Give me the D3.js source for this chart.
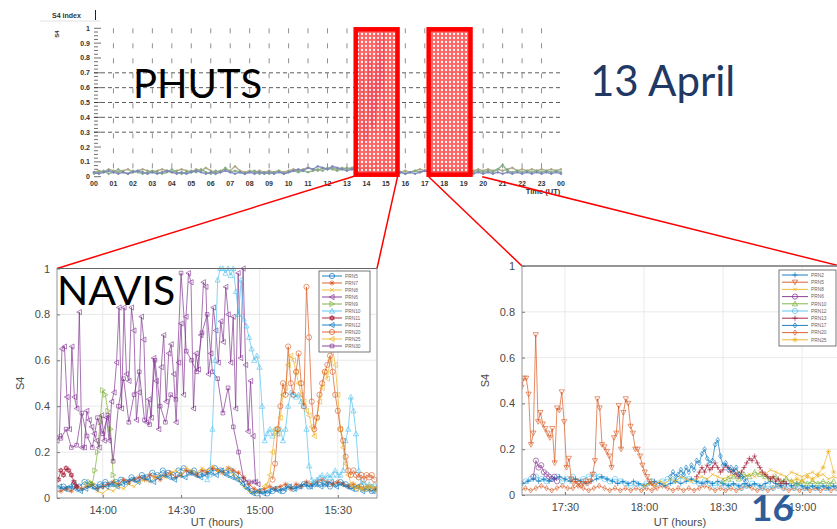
<!DOCTYPE html>
<html>
<head>
<meta charset="utf-8">
<script src="https://cdn.jsdelivr.net/npm/d3@7"></script>
<style>
  html, body { margin: 0; padding: 0; background: #fff; }
  svg { display: block; }
</style>
</head>
<body>
<svg id="chart" width="837" height="529"></svg>
<script>
// ---------- Daily overview (PHUTS), S4 per 15 min, 00–24 UT ----------
const dayStepHour = 0.25;
const phutsTan = [
  0.03,0.04,0.03,0.05,0.04,0.03,0.04,0.05,0.03,0.04,
  0.05,0.04,0.03,0.04,0.05,0.04,0.03,0.04,0.05,0.04,
  0.03,0.05,0.04,0.06,0.04,0.03,0.04,0.05,0.04,0.07,
  0.04,0.03,0.04,0.03,0.04,0.03,0.04,0.03,0.04,0.03,
  0.04,0.05,0.04,0.05,0.06,0.05,0.04,0.06,0.05,0.06,
  0.05,0.06,0.05,0.06,0.07,0.08,0.07,0.08,0.09,0.10,
  0.08,0.06,0.04,0.03,0.04,0.03,0.04,0.05,0.04,0.05,
  0.04,0.05,0.06,0.05,0.04,0.05,0.04,0.03,0.04,0.05,
  0.04,0.05,0.04,0.05,0.04,0.05,0.06,0.04,0.05,0.04,
  0.05,0.04,0.05,0.04,0.05,0.04,0.05];
const phutsGreen = [
  0.02,0.03,0.04,0.02,0.03,0.05,0.03,0.02,0.04,0.03,
  0.02,0.03,0.04,0.03,0.02,0.03,0.05,0.03,0.02,0.03,
  0.04,0.03,0.05,0.03,0.02,0.04,0.03,0.06,0.03,0.04,
  0.03,0.02,0.03,0.04,0.02,0.03,0.02,0.03,0.04,0.02,
  0.03,0.04,0.03,0.04,0.03,0.04,0.05,0.04,0.06,0.05,
  0.04,0.05,0.06,0.05,0.04,0.05,0.06,0.05,0.06,0.05,
  0.04,0.03,0.02,0.03,0.02,0.03,0.04,0.03,0.04,0.03,
  0.04,0.03,0.04,0.03,0.05,0.04,0.03,0.02,0.03,0.04,
  0.03,0.04,0.03,0.05,0.08,0.04,0.03,0.04,0.03,0.04,
  0.03,0.04,0.03,0.04,0.03,0.04,0.03];
const phutsBlue = [
  0.03,0.02,0.03,0.04,0.03,0.02,0.03,0.02,0.03,0.04,
  0.03,0.02,0.03,0.02,0.03,0.04,0.03,0.02,0.03,0.02,
  0.03,0.04,0.03,0.02,0.03,0.02,0.03,0.04,0.03,0.02,
  0.03,0.02,0.03,0.02,0.03,0.02,0.03,0.02,0.03,0.02,
  0.03,0.04,0.05,0.04,0.06,0.05,0.07,0.06,0.05,0.07,
  0.06,0.05,0.04,0.05,0.06,0.05,0.04,0.03,0.02,0.03,
  0.02,0.03,0.02,0.03,0.02,0.03,0.02,0.03,0.04,0.03,
  0.04,0.03,0.02,0.03,0.02,0.03,0.02,0.03,0.02,0.03,
  0.02,0.03,0.02,0.03,0.02,0.03,0.02,0.03,0.02,0.03,
  0.02,0.03,0.02,0.03,0.02,0.03,0.02];
const dayTickLabels = ["00","01","02","03","04","05","06","07","08","09","10","11","12",
  "13","14","15","16","17","18","19","20","21","22","23","00"];
const dayYTicks = [0,0.1,0.2,0.3,0.4,0.5,0.6,0.7,0.8,0.9,1];
const dayDashedLevels = [0.3,0.4,0.5,0.6,0.7];
// zoom windows marked on the daily plot (UT hours)
const zoomWindows = [[13.45, 15.6], [17.2, 19.35]];

// ---------- NAVIS, 13:42–15:45 UT ----------
const navisPrn6Start = "13:42.5", navisPrn6Step = 0.95;
const navisPrn6 = [
  0.25,0.27,0.65,0.66,0.44,0.30,0.66,0.44,0.39,0.81,0.22,0.22,0.38,0.34,0.31,0.28,0.25,0.22,
  0.36,0.25,0.35,0.25,0.42,0.46,0.59,0.83,0.39,0.83,0.54,0.51,0.83,0.73,0.34,0.46,0.79,0.69,
  0.33,0.43,0.35,0.61,0.51,0.30,0.57,0.71,0.42,0.63,0.67,0.54,
  0.33,0.59,0.76,0.45,0.79,0.98,0.94,0.39,0.63,0.56,0.71,0.94,0.92,0.54,0.63,0.83,0.73,0.59,
  0.77,0.68,0.92,0.80,0.59,0.79,0.39,0.98,0.61,1.00,0.58,0.29,0.51,0.27,0.07,0.06];
const navisPrn30Start = "13:44", navisPrn30Step = 2;
const navisPrn30 = [
  0.26,0.30,0.22,0.23,0.37,0.27,0.22,0.35,0.28,0.36,0.16,0.40,0.52,0.33,0.45,0.55,0.34,0.32,
  0.60,0.40,0.33,0.45,0.43,0.98,0.64,0.60,0.55,0.72,0.80,0.55,0.52,0.37,0.48,0.31,0.20,0.08,
  0.07,0.07];
const navisPrn10Start = "14:40", navisPrn10Step = 1;
const navisPrn10 = [
  0.08,0.10,0.30,0.60,0.95,1.00,1.00,0.98,1.00,0.97,1.00,0.90,0.80,0.95,0.78,0.75,0.70,0.65,
  0.60,0.62,0.57,0.40,0.25,0.28,0.30,0.27,0.30,0.28,0.30,0.25,0.30,0.40,0.46,0.45,0.44,0.45,
  0.42,0.40,0.30,0.14,0.08,0.07,0.08,0.09,0.10,0.08,0.10,0.09,0.10,0.12,0.10,0.10,0.12,0.25,
  0.30,0.44,0.38,0.28,0.12,0.06,0.07,0.05,0.06,0.05,0.06];
const navisPrn25Start = "15:02", navisPrn25Step = 1;
const navisPrn25 = [
  0.05,0.06,0.10,0.20,0.30,0.28,0.35,0.45,0.48,0.58,0.62,0.60,0.55,0.50,0.45,0.42,0.38,0.36,
  0.31,0.27,0.35,0.42,0.48,0.55,0.52,0.60,0.65,0.58,0.45,0.30,0.22,0.15,0.10,0.06,0.05,0.04,
  0.05,0.04,0.04,0.05,0.04,0.05,0.04];
const navisPrn20Start = "15:05", navisPrn20Step = 1;
const navisPrn20 = [
  0.08,0.15,0.30,0.40,0.50,0.45,0.66,0.50,0.45,0.55,0.63,0.50,0.40,0.92,0.70,0.42,0.30,0.35,
  0.45,0.50,0.55,0.58,0.62,0.55,0.45,0.38,0.30,0.25,0.18,0.12,0.10,0.12,0.10,0.09,0.10,0.08,
  0.10,0.09,0.10,0.08];
const navisPrn9Start = "13:54", navisPrn9Step = 1;
const navisPrn9 = [0.06,0.07,0.06,0.12,0.20,0.33,0.47,0.45,0.38,0.30,0.10,0.06];
const navisPrn11Start = "13:43", navisPrn11Step = 1;
const navisPrn11 = [0.08,0.12,0.10,0.13,0.12,0.10,0.07,0.05];
const navisPrn5Start = "13:43", navisPrn5Step = 2;
const navisPrn5 = [
  0.04,0.05,0.04,0.06,0.05,0.07,0.06,0.05,0.06,0.07,
  0.06,0.07,0.08,0.07,0.09,0.08,0.10,0.09,0.11,0.10,
  0.12,0.11,0.10,0.12,0.13,0.11,0.12,0.10,0.11,0.12,
  0.13,0.12,0.11,0.12,0.10,0.08,0.05,0.03,0.02,0.03,
  0.02,0.03,0.04,0.03,0.05,0.04,0.05,0.06,0.05,0.06,
  0.07,0.06,0.05,0.06,0.07,0.06,0.05,0.04,0.05,0.04,0.03,0.04];
const navisPrn7Start = "13:44", navisPrn7Step = 2;
const navisPrn7 = [
  0.03,0.04,0.03,0.05,0.04,0.05,0.06,0.04,0.05,0.06,
  0.07,0.06,0.08,0.07,0.08,0.09,0.08,0.10,0.09,0.08,
  0.10,0.11,0.09,0.10,0.12,0.11,0.10,0.12,0.11,0.13,
  0.12,0.11,0.13,0.12,0.11,0.09,0.06,0.04,0.03,0.04,
  0.05,0.04,0.05,0.06,0.04,0.06,0.05,0.07,0.06,0.07,
  0.08,0.07,0.06,0.07,0.06,0.05,0.06,0.05,0.04,0.05,0.04,0.05];
const navisPrn12Start = "13:43.5", navisPrn12Step = 2;
const navisPrn12 = [
  0.05,0.04,0.05,0.04,0.03,0.04,0.05,0.04,0.05,0.05,
  0.06,0.05,0.06,0.07,0.08,0.07,0.09,0.08,0.07,0.09,
  0.10,0.09,0.08,0.10,0.09,0.11,0.10,0.09,0.10,0.11,
  0.10,0.12,0.10,0.09,0.08,0.06,0.04,0.02,0.03,0.02,
  0.03,0.04,0.03,0.04,0.05,0.04,0.05,0.06,0.05,0.06,
  0.05,0.06,0.07,0.05,0.06,0.05,0.04,0.05,0.03,0.04,0.03,0.04];
const navisPrn8Start = "13:58", navisPrn8Step = 2;
const navisPrn8 = [
  0.03,0.02,0.04,0.03,0.05,0.04,0.06,0.05,0.07,0.08,
  0.07,0.09,0.10,0.09,0.11,0.12,0.10,0.13,0.12,0.11,
  0.13,0.12,0.14,0.12,0.11,0.13,0.10,0.08,0.05,0.03,0.02,0.03];
const navisTicks = ["14:00","14:30","15:00","15:30"];
const s4Ticks = [0,0.2,0.4,0.6,0.8,1];

// ---------- second window, 17:13–19:14 UT ----------
const evePrn5Start = "17:13.5", evePrn5Step = 0.9;
const evePrn5 = [
  0.47,0.51,0.51,0.44,0.22,0.27,0.70,0.32,0.36,0.31,0.29,0.27,0.25,0.29,0.14,0.38,0.37,0.45,
  0.32,0.12,0.16,0.07,0.05,0.06,0.05,0.04,0.05,0.06,0.05,0.06,0.09,0.15,0.42,0.38,0.22,0.21,
  0.19,0.17,0.12,0.25,0.27,0.39,0.20,0.36,0.42,0.40,0.30,0.27,0.20,0.20,0.17,0.13,0.10,0.08,
  0.06,0.05,0.04];
const evePrn6Start = "17:18", evePrn6Step = 1;
const evePrn6 = [0.08,0.15,0.12,0.13,0.10,0.09,0.08,0.07,0.08,0.06];
const evePrn17Start = "18:10", evePrn17Step = 1;
const evePrn17 = [
  0.08,0.10,0.08,0.09,0.11,0.09,0.12,0.10,0.13,0.11,0.15,0.14,0.18,0.20,0.16,0.14,0.15,0.22,
  0.24,0.17,0.13,0.14,0.11,0.12,0.10,0.12,0.09,0.08,0.07,0.06];
const evePrn13Start = "18:20", evePrn13Step = 1;
const evePrn13 = [
  0.08,0.10,0.12,0.10,0.13,0.11,0.12,0.14,0.12,0.10,0.11,0.13,0.12,0.10,0.11,0.09,0.08,0.10,
  0.12,0.14,0.16,0.15,0.17,0.14,0.12,0.10,0.09,0.08,0.07,0.08,0.06,0.07,0.05,0.06,0.05];
const evePrn2Start = "17:14", evePrn2Step = 2;
const evePrn2 = [
  0.05,0.06,0.07,0.06,0.07,0.06,0.07,0.08,0.07,0.06,
  0.07,0.06,0.05,0.06,0.07,0.08,0.07,0.06,0.05,0.06,
  0.05,0.06,0.05,0.04,0.05,0.06,0.05,0.04,0.05,0.06,
  0.05,0.06,0.07,0.06,0.05,0.06,0.05,0.06,0.05,0.04,
  0.05,0.04,0.05,0.04,0.05,0.04,0.05,0.06,0.05,0.04,
  0.05,0.04,0.05,0.04,0.03,0.04,0.03,0.04,0.03,0.04,0.03];
const evePrn20Start = "17:13", evePrn20Step = 2;
const evePrn20 = [
  0.02,0.03,0.02,0.03,0.04,0.03,0.02,0.03,0.04,0.03,
  0.03,0.04,0.03,0.02,0.03,0.04,0.03,0.02,0.03,0.02,
  0.03,0.02,0.03,0.02,0.03,0.02,0.03,0.04,0.03,0.02,
  0.03,0.02,0.03,0.02,0.03,0.04,0.03,0.02,0.03,0.02,
  0.03,0.02,0.03,0.04,0.03,0.02,0.03,0.02,0.03,0.04,
  0.03,0.02,0.03,0.02,0.03,0.02,0.03,0.02,0.03,0.02,0.03];
const evePrn12Start = "17:15", evePrn12Step = 2;
const evePrn12 = [
  0.06,0.07,0.08,0.07,0.06,0.07,0.08,0.06,0.07,0.08,
  0.06,0.07,0.08,0.09,0.08,0.07,0.06,0.07,0.06,0.05,
  0.04,0.05,0.04,0.05,0.06,0.05,0.06,0.07,0.06,0.07,
  0.08,0.07,0.06,0.05,0.06,0.05,0.04,0.05,0.04,0.05,
  0.04,0.03,0.04,0.05,0.04,0.03,0.04,0.03,0.04,0.03,
  0.04,0.03,0.04,0.03,0.04,0.03,0.04,0.03,0.04,0.03,0.04];
const evePrn8Start = "18:00", evePrn8Step = 2;
const evePrn8 = [
  0.04,0.05,0.04,0.06,0.05,0.07,0.06,0.08,0.07,0.06,
  0.07,0.08,0.07,0.09,0.08,0.07,0.08,0.09,0.10,0.08,
  0.09,0.08,0.10,0.09,0.11,0.10,0.09,0.08,0.10,0.09,
  0.08,0.09,0.10,0.08,0.09,0.07,0.08,0.07];
const evePrn10Start = "18:30", evePrn10Step = 2;
const evePrn10 = [0.06,0.07,0.08,0.07,0.09,0.08,0.10,0.09,0.08,0.07,0.08,0.06,
  0.07,0.06,0.05,0.06,0.05,0.06,0.05,0.06,0.05,0.06];
const evePrn25Start = "18:56", evePrn25Step = 2;
const evePrn25 = [0.06,0.07,0.06,0.08,0.07,0.09,0.12,0.19,0.10];
const eveTicks = ["17:30","18:00","18:30","19:00"];

// ---------- drawing ----------
const C = ["#0072BD","#D95319","#EDB120","#7E2F8E","#77AC30","#4DBEEE","#A2142F"];
const AX_FONT = "'Liberation Sans', Arial, sans-serif";
const BIG_FONT = "Lato, 'Open Sans', sans-serif";

const toMin = s => { const [h, m] = s.split(":"); return (+h) * 60 + (+m); };
const toPoints = (start, step, values) =>
  values.map((v, i) => ({ t: toMin(start) + i * step, v }));

function markerPath(type, r) {
  const k = r * 0.8, q = r * 0.7;
  switch (type) {
    case "o": return `M${-r},0a${r},${r} 0 1,0 ${2*r},0a${r},${r} 0 1,0 ${-2*r},0`;
    case "s": return `M${-q},${-q}h${2*q}v${2*q}h${-2*q}z`;
    case "^": return `M0,${-r}L${r},${k}L${-r},${k}Z`;
    case "v": return `M0,${r}L${r},${-k}L${-r},${-k}Z`;
    case "<": return `M${-r},0L${k},${-r}L${k},${r}Z`;
    case ">": return `M${r},0L${-k},${-r}L${-k},${r}Z`;
    case "d": return `M0,${-r}L${q},0L0,${r}L${-q},0Z`;
    case "+": return `M${-r},0H${r}M0,${-r}V${r}`;
    case "x": return `M${-q},${-q}L${q},${q}M${-q},${q}L${q},${-q}`;
    case "*": return `M${-r},0H${r}M0,${-r}V${r}M${-q},${-q}L${q},${q}M${-q},${q}L${q},${-q}`;
    case "h": return `M0,${-r}L${r*0.87},${r*0.5}L${-r*0.87},${r*0.5}Z` +
                     `M0,${r}L${r*0.87},${-r*0.5}L${-r*0.87},${-r*0.5}Z`;
    default: return `M-0.9,0a0.9,0.9 0 1,0 1.8,0a0.9,0.9 0 1,0 -1.8,0`;
  }
}

const svg = d3.select("#chart");
svg.append("rect").attr("width", 837).attr("height", 529).attr("fill", "#fff");
const defs = svg.append("defs");
const pat = defs.append("pattern").attr("id", "dotfill")
  .attr("width", 4).attr("height", 4).attr("patternUnits", "userSpaceOnUse");
pat.append("rect").attr("width", 4).attr("height", 4).attr("fill", "#ff4d4d");
pat.append("circle").attr("cx", 2).attr("cy", 2).attr("r", 1.15).attr("fill", "#fff");

function drawSeries(g, s, x, y, r, lw) {
  const pts = toPoints(s.start, s.step, s.values);
  g.append("path").datum(pts)
    .attr("d", d3.line().x(d => x(d.t)).y(d => y(d.v)))
    .attr("fill", "none").attr("stroke", s.color)
    .attr("stroke-width", lw).attr("stroke-opacity", 0.85);
  if (s.marker) {
    g.selectAll(null).data(pts).join("path")
      .attr("transform", d => `translate(${x(d.t)},${y(d.v)})`)
      .attr("d", markerPath(s.marker, r))
      .attr("fill", s.marker === "." ? s.color : "none").attr("stroke", s.color)
      .attr("stroke-width", 0.7).attr("stroke-opacity", 0.85);
  }
}

// ===== daily overview =====
const xDay = d3.scaleLinear().domain([0, 24]).range([94, 561]);
const yDay = d3.scaleLinear().domain([0, 1]).range([176.7, 28.3]);
const overview = svg.append("g");

overview.append("line").attr("x1", 40).attr("x2", 100).attr("y1", 21).attr("y2", 21)
  .attr("stroke", "#e2e2e2");
overview.append("text").attr("x", 52).attr("y", 17.5).text("S4 index")
  .attr("font-family", AX_FONT).attr("font-size", 7).attr("font-weight", "bold").attr("fill", "#333");
overview.append("line").attr("x1", 95.5).attr("x2", 95.5).attr("y1", 10).attr("y2", 20)
  .attr("stroke", "#222").attr("stroke-width", 1);
overview.append("text").attr("transform", "translate(59,34) rotate(-90)").text("S4")
  .attr("text-anchor", "middle")
  .attr("font-family", AX_FONT).attr("font-size", 6).attr("font-weight", "bold").attr("fill", "#333");

// vertical hour grid (sparse dashes)
overview.selectAll(null).data(d3.range(1, 24)).join("line")
  .attr("x1", d => xDay(d)).attr("x2", d => xDay(d))
  .attr("y1", yDay(1)).attr("y2", yDay(0))
  .attr("stroke", "#444").attr("stroke-width", 0.8).attr("stroke-dasharray", "5,10")
  .attr("stroke-opacity", 0.75);
// dashed horizontal levels
overview.selectAll(null).data(dayDashedLevels).join("line")
  .attr("x1", xDay(0)).attr("x2", xDay(24))
  .attr("y1", d => yDay(d)).attr("y2", d => yDay(d))
  .attr("stroke", "#333").attr("stroke-width", 0.8).attr("stroke-dasharray", "4,3");
// y ticks (major + minor)
overview.selectAll(null).data(d3.range(0, 41)).join("line")
  .attr("x1", xDay(0)).attr("x2", d => xDay(0) + (d % 4 === 0 ? 7 : 4))
  .attr("y1", d => yDay(d / 40)).attr("y2", d => yDay(d / 40))
  .attr("stroke", "#333").attr("stroke-width", 0.7);
overview.selectAll(null).data(dayYTicks).join("text")
  .attr("x", xDay(0) - 4).attr("y", d => yDay(d) + 2.5)
  .attr("text-anchor", "end")
  .text(d => (d === 0 || d === 1) ? d : d.toFixed(1))
  .attr("font-family", AX_FONT).attr("font-size", 7).attr("font-weight", "bold").attr("fill", "#333");

// overview series, plotted on a minute axis spanning the day
const xDayMin = d3.scaleLinear().domain([0, 1440]).range([94, 561]);
const daySeries = [
  { start: "0:00", step: dayStepHour * 60, values: phutsTan, color: "#a8a27e" },
  { start: "0:00", step: dayStepHour * 60, values: phutsGreen, color: "#7fae84" },
  { start: "0:00", step: dayStepHour * 60, values: phutsBlue, color: "#7d86bd" }
];
daySeries.forEach(s => drawSeries(overview, { ...s, marker: "." }, xDayMin, yDay, 0, 1.5));
drawSeries(overview, { start: navisPrn6Start, step: navisPrn6Step, values: navisPrn6,
  color: C[3] }, xDayMin, yDay, 0, 0.8);

overview.selectAll(null).data(dayTickLabels).join("text")
  .attr("x", (d, i) => xDay(i)).attr("y", 186)
  .attr("text-anchor", "middle").text(d => d)
  .attr("font-family", AX_FONT).attr("font-size", 7).attr("font-weight", "bold").attr("fill", "#333");
overview.append("text").attr("x", 543).attr("y", 194).attr("text-anchor", "middle").text("Time (UT)")
  .attr("font-family", AX_FONT).attr("font-size", 7.5).attr("font-weight", "bold").attr("fill", "#333");

// highlighted windows
overview.selectAll(null).data(zoomWindows).join("rect")
  .attr("x", d => xDay(d[0])).attr("y", yDay(1) + 1)
  .attr("width", d => xDay(d[1]) - xDay(d[0]))
  .attr("height", yDay(0) - yDay(1) - 3)
  .attr("fill", "url(#dotfill)").attr("fill-opacity", 0.88)
  .attr("stroke", "#ff0000").attr("stroke-width", 4.5);

// ===== NAVIS panel =====
const xN = d3.scaleLinear().domain([toMin("13:42.5"), toMin("15:45")]).range([57, 377]);
const yN = d3.scaleLinear().domain([0, 1]).range([498, 268.5]);
// ===== evening panel =====
const xE = d3.scaleLinear().domain([toMin("17:13.7"), toMin("19:14.4")]).range([522, 840]);
const yE = d3.scaleLinear().domain([0, 1]).range([495, 266]);

// connector lines from the highlighted windows to the zoom panels
const connectors = [
  [xDay(zoomWindows[0][0]), yDay(0) - 1, xN.range()[0], yN(1)],
  [xDay(zoomWindows[0][1]), yDay(0), xN.range()[1], yN(1)],
  [xDay(zoomWindows[1][0]), yDay(0), xE.range()[0], yE(1)],
  [xDay(19.95), yDay(0), xE.range()[1], yE(1)]
];
svg.selectAll(null).data(connectors).join("line")
  .attr("x1", d => d[0]).attr("y1", d => d[1]).attr("x2", d => d[2]).attr("y2", d => d[3])
  .attr("stroke", "#ff0000").attr("stroke-width", 1.5);

function panel(id, x, y, ticks, series, legend) {
  const g = svg.append("g");
  const [x0, x1] = x.range(), [y0, y1] = y.range();
  g.append("rect").attr("x", x0).attr("y", y1).attr("width", x1 - x0).attr("height", y0 - y1)
    .attr("fill", "#fff");
  // grid
  g.selectAll(null).data(ticks.map(toMin)).join("line")
    .attr("x1", d => x(d)).attr("x2", d => x(d)).attr("y1", y1).attr("y2", y0)
    .attr("stroke", "#e4e4e4").attr("stroke-width", 0.8);
  g.selectAll(null).data(s4Ticks).join("line")
    .attr("x1", x0).attr("x2", x1).attr("y1", d => y(d)).attr("y2", d => y(d))
    .attr("stroke", "#e4e4e4").attr("stroke-width", 0.8);
  // axes
  const ax = g.append("g").attr("transform", `translate(0,${y0})`)
    .call(d3.axisBottom(x).tickValues(ticks.map(toMin)).tickFormat((d, i) => ticks[i])
      .tickSizeInner(-3).tickSizeOuter(0).tickPadding(8));
  const ay = g.append("g").attr("transform", `translate(${x0},0)`)
    .call(d3.axisLeft(y).tickValues(s4Ticks)
      .tickFormat(d => (d === 0 || d === 1) ? d : d.toFixed(1))
      .tickSizeInner(-3).tickSizeOuter(0).tickPadding(7));
  [ax, ay].forEach(a => {
    a.select(".domain").remove();
    a.selectAll("line").attr("stroke", "#777");
    a.selectAll("text").attr("font-family", AX_FONT).attr("font-size", 11).attr("fill", "#4a4a4a");
  });
  // plot
  const clipId = "clip-" + id;
  defs.append("clipPath").attr("id", clipId).append("rect")
    .attr("x", x0).attr("y", y1 - 4).attr("width", x1 - x0).attr("height", y0 - y1 + 4);
  const pg = g.append("g").attr("clip-path", `url(#${clipId})`);
  series.forEach(s => drawSeries(pg, s, x, y, 2.6, 0.8));
  // box
  g.append("rect").attr("x", x0).attr("y", y1).attr("width", x1 - x0).attr("height", y0 - y1)
    .attr("fill", "none").attr("stroke", "#8a8a8a").attr("stroke-width", 0.9);
  g.append("line").attr("x1", x0).attr("x2", x1).attr("y1", y1).attr("y2", y1)
    .attr("stroke", "#666").attr("stroke-width", 1.2);
  // labels
  g.append("text").attr("transform", `translate(${x0 - 33},${(y0 + y1) / 2}) rotate(-90)`)
    .attr("text-anchor", "middle").text("S4")
    .attr("font-family", AX_FONT).attr("font-size", 11).attr("fill", "#4a4a4a");
  g.append("text").attr("x", legend.labelX).attr("y", 526).attr("text-anchor", "middle")
    .text("UT (hours)")
    .attr("font-family", AX_FONT).attr("font-size", 11).attr("fill", "#4a4a4a");
  // legend
  const lg = g.append("g");
  lg.append("rect").attr("x", legend.x).attr("y", legend.y)
    .attr("width", legend.w).attr("height", legend.rowH * series.length + 4)
    .attr("fill", "#fff").attr("stroke", "#555").attr("stroke-width", 0.8);
  const order = legend.order.map(n => series.find(s => s.label === n));
  order.forEach((s, i) => {
    const cy = legend.y + 5 + i * legend.rowH;
    lg.append("line").attr("x1", legend.x + 3).attr("x2", legend.x + legend.lineW)
      .attr("y1", cy).attr("y2", cy).attr("stroke", s.color).attr("stroke-width", 0.9);
    lg.append("path").attr("transform", `translate(${legend.x + 3 + (legend.lineW - 3) / 2},${cy})`)
      .attr("d", markerPath(s.marker, 2.6)).attr("fill", "none")
      .attr("stroke", s.color).attr("stroke-width", 0.7);
    lg.append("text").attr("x", legend.x + legend.lineW + 3).attr("y", cy + 1.7).text(s.label)
      .attr("font-family", AX_FONT).attr("font-size", 4.8).attr("fill", "#666");
  });
}

const navisSeries = [
  { label: "PRN5",  start: navisPrn5Start,  step: navisPrn5Step,  values: navisPrn5,  color: C[0], marker: "o" },
  { label: "PRN7",  start: navisPrn7Start,  step: navisPrn7Step,  values: navisPrn7,  color: C[1], marker: "*" },
  { label: "PRN8",  start: navisPrn8Start,  step: navisPrn8Step,  values: navisPrn8,  color: C[2], marker: "x" },
  { label: "PRN12", start: navisPrn12Start, step: navisPrn12Step, values: navisPrn12, color: C[0], marker: "<" },
  { label: "PRN11", start: navisPrn11Start, step: navisPrn11Step, values: navisPrn11, color: C[6], marker: "h" },
  { label: "PRN9",  start: navisPrn9Start,  step: navisPrn9Step,  values: navisPrn9,  color: C[4], marker: ">" },
  { label: "PRN30", start: navisPrn30Start, step: navisPrn30Step, values: navisPrn30, color: C[3], marker: "s" },
  { label: "PRN6",  start: navisPrn6Start,  step: navisPrn6Step,  values: navisPrn6,  color: C[3], marker: "<" },
  { label: "PRN10", start: navisPrn10Start, step: navisPrn10Step, values: navisPrn10, color: C[5], marker: "^" },
  { label: "PRN25", start: navisPrn25Start, step: navisPrn25Step, values: navisPrn25, color: C[2], marker: "<" },
  { label: "PRN20", start: navisPrn20Start, step: navisPrn20Step, values: navisPrn20, color: C[1], marker: "o" }
];
panel("navis", xN, yN, navisTicks, navisSeries, {
  x: 319, y: 271, w: 51, rowH: 7, lineW: 23, labelX: 217,
  order: ["PRN5","PRN7","PRN8","PRN6","PRN9","PRN10","PRN11","PRN12","PRN20","PRN25","PRN30"]
});

const eveSeries = [
  { label: "PRN20", start: evePrn20Start, step: evePrn20Step, values: evePrn20, color: C[1], marker: "d" },
  { label: "PRN12", start: evePrn12Start, step: evePrn12Step, values: evePrn12, color: C[5], marker: "o" },
  { label: "PRN2",  start: evePrn2Start,  step: evePrn2Step,  values: evePrn2,  color: C[0], marker: "+" },
  { label: "PRN8",  start: evePrn8Start,  step: evePrn8Step,  values: evePrn8,  color: C[2], marker: "x" },
  { label: "PRN10", start: evePrn10Start, step: evePrn10Step, values: evePrn10, color: C[4], marker: "^" },
  { label: "PRN6",  start: evePrn6Start,  step: evePrn6Step,  values: evePrn6,  color: C[3], marker: "o" },
  { label: "PRN13", start: evePrn13Start, step: evePrn13Step, values: evePrn13, color: C[6], marker: "+" },
  { label: "PRN17", start: evePrn17Start, step: evePrn17Step, values: evePrn17, color: C[0], marker: "d" },
  { label: "PRN25", start: evePrn25Start, step: evePrn25Step, values: evePrn25, color: C[2], marker: "*" },
  { label: "PRN5",  start: evePrn5Start,  step: evePrn5Step,  values: evePrn5,  color: C[1], marker: "v" }
];
panel("eve", xE, yE, eveTicks, eveSeries, {
  x: 779, y: 270, w: 57, rowH: 7.2, lineW: 29, labelX: 680,
  order: ["PRN2","PRN5","PRN8","PRN6","PRN10","PRN12","PRN13","PRN17","PRN20","PRN25"]
});

// ===== titles =====
svg.append("text").attr("x", 133).attr("y", 98).text("PHUTS")
  .attr("font-family", BIG_FONT).attr("font-size", 40).attr("fill", "#000");
svg.append("text").attr("x", 590).attr("y", 96).text("13 April")
  .attr("font-family", BIG_FONT).attr("font-size", 42).attr("fill", "#1f3864");
svg.append("text").attr("x", 57).attr("y", 305).text("NAVIS")
  .attr("font-family", BIG_FONT).attr("font-size", 41).attr("fill", "#000");
svg.append("text").attr("x", 751).attr("y", 521).text("16")
  .attr("font-family", BIG_FONT).attr("font-size", 37).attr("font-weight", "bold").attr("fill", "#2e5d9a");
</script>
</body>
</html>
